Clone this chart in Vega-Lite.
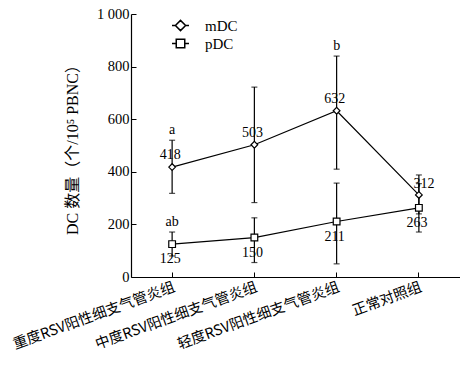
{
  "$schema": "https://vega.github.io/schema/vega-lite/v6.json",
  "autosize": "none",
  "width": 329,
  "height": 263,
  "padding": {"left": 131, "top": 14, "right": 0, "bottom": 91},
  "background": "white",
  "config": {
    "view": {"stroke": null},
    "font": "Liberation Serif",
    "axis": {"domainColor": "black", "tickColor": "black", "labelColor": "black", "titleColor": "black", "grid": false},
    "axisY": {"tickCount": 10, "labelOverlap": false}
  },
  "data": {
    "values": [
      {"group": "重度RSV阳性细支气管炎组", "series": "mDC", "value": 418, "lo": 318, "hi": 520, "letter": "a"},
      {"group": "中度RSV阳性细支气管炎组", "series": "mDC", "value": 503, "lo": 283, "hi": 722, "letter": ""},
      {"group": "轻度RSV阳性细支气管炎组", "series": "mDC", "value": 632, "lo": 410, "hi": 840, "letter": "b"},
      {"group": "正常对照组", "series": "mDC", "value": 312, "lo": 240, "hi": 388, "letter": ""},
      {"group": "重度RSV阳性细支气管炎组", "series": "pDC", "value": 125, "lo": 80, "hi": 171, "letter": "ab"},
      {"group": "中度RSV阳性细支气管炎组", "series": "pDC", "value": 150, "lo": 55, "hi": 225, "letter": ""},
      {"group": "轻度RSV阳性细支气管炎组", "series": "pDC", "value": 211, "lo": 50, "hi": 357, "letter": ""},
      {"group": "正常对照组", "series": "pDC", "value": 263, "lo": 171, "hi": 355, "letter": ""}
    ]
  },
  "encoding": {
    "x": {
      "field": "group", "type": "nominal", "sort": null,
      "scale": {"type": "band", "paddingInner": 0, "paddingOuter": 0.0},
      "axis": {"title": null, "labelAngle": -20, "labelAlign": "right", "labelBaseline": "top", "labelFont": "Noto Sans CJK SC", "labelFontSize": 14.5, "tickSize": -5, "labelPadding": 8, "domainWidth": 1.2}
    }
  },
  "layer": [
    {
      "mark": {"type": "rule", "color": "black", "strokeWidth": 1.2},
      "encoding": {
        "y": {
          "field": "lo", "type": "quantitative",
          "scale": {"domain": [0, 1000], "nice": false},
          "axis": {
            "title": "DC 数量（个/10⁵ PBNC）",
            "titleFont": "Liberation Serif, Noto Sans CJK SC", "titleFontSize": 16, "titleFontWeight": "normal",
            "titleX": -51,
            "values": [0, 100, 200, 300, 400, 500, 600, 700, 800, 900, 1000],
            "tickCount": 10,
            "labelOverlap": false,
            "format": "d",
            "labelExpr": "datum.value == 1000 ? '1 000' : datum.label",
            "labelFontSize": 14.5, "tickSize": -5, "labelPadding": 7, "domainWidth": 1.2
          }
        },
        "y2": {"field": "hi"}
      }
    },
    {
      "mark": {"type": "tick", "color": "black", "size": 6, "thickness": 1.2, "orient": "horizontal"},
      "encoding": {"y": {"field": "hi", "type": "quantitative"}}
    },
    {
      "mark": {"type": "tick", "color": "black", "size": 6, "thickness": 1.2, "orient": "horizontal"},
      "encoding": {"y": {"field": "lo", "type": "quantitative"}}
    },
    {
      "mark": {"type": "line", "color": "black", "strokeWidth": 1.2},
      "encoding": {
        "y": {"field": "value", "type": "quantitative"},
        "detail": {"field": "series"}
      }
    },
    {
      "mark": {"type": "point", "filled": false, "fill": "white", "color": "black", "strokeWidth": 1.1, "opacity": 1},
      "encoding": {
        "y": {"field": "value", "type": "quantitative"},
        "shape": {
          "field": "series", "type": "nominal",
          "scale": {"domain": ["mDC", "pDC"], "range": ["M-1,0H-0.6M-0.6,0L0,-0.6L0.6,0L0,0.6ZM0.6,0H1", "M-1,0H-0.5M-0.5,-0.5H0.5V0.5H-0.5ZM0.5,0H1"]},
          "legend": {
            "title": null, "orient": "none", "legendX": 40, "legendY": 2,
            "labelFontSize": 15, "labelFont": "Liberation Serif", "labelColor": "black",
            "symbolSize": 289,
            "rowPadding": 0, "labelOffset": 15
          }
        },
        "size": {"value": 0}
      }
    },
    {
      "transform": [{"filter": "datum.series == 'mDC'"}],
      "mark": {"type": "point", "shape": "diamond", "filled": false, "fill": "white", "color": "black", "strokeWidth": 1.2, "opacity": 1, "size": 45},
      "encoding": {"y": {"field": "value", "type": "quantitative"}}
    },
    {
      "transform": [{"filter": "datum.series == 'pDC'"}],
      "mark": {"type": "point", "shape": "square", "filled": false, "fill": "white", "color": "black", "strokeWidth": 1.2, "opacity": 1, "size": 45},
      "encoding": {"y": {"field": "value", "type": "quantitative"}}
    },
    {
      "transform": [{"filter": "datum.series == 'mDC' && datum.group != '正常对照组'"}],
      "mark": {"type": "text", "fontSize": 14, "dy": -12, "dx": -2, "color": "black"},
      "encoding": {"y": {"field": "value", "type": "quantitative"}, "text": {"field": "value"}}
    },
    {
      "transform": [{"filter": "datum.series == 'mDC' && datum.group == '正常对照组'"}],
      "mark": {"type": "text", "fontSize": 14, "dy": -11, "dx": 5, "color": "black"},
      "encoding": {"y": {"field": "value", "type": "quantitative"}, "text": {"field": "value"}}
    },
    {
      "transform": [{"filter": "datum.series == 'pDC'"}],
      "mark": {"type": "text", "fontSize": 14, "dy": 15, "dx": -2, "color": "black"},
      "encoding": {"y": {"field": "value", "type": "quantitative"}, "text": {"field": "value"}}
    },
    {
      "mark": {"type": "text", "fontSize": 14, "baseline": "bottom", "dy": -3, "color": "black"},
      "encoding": {"y": {"field": "hi", "type": "quantitative"}, "text": {"field": "letter"}}
    }
  ]
}
